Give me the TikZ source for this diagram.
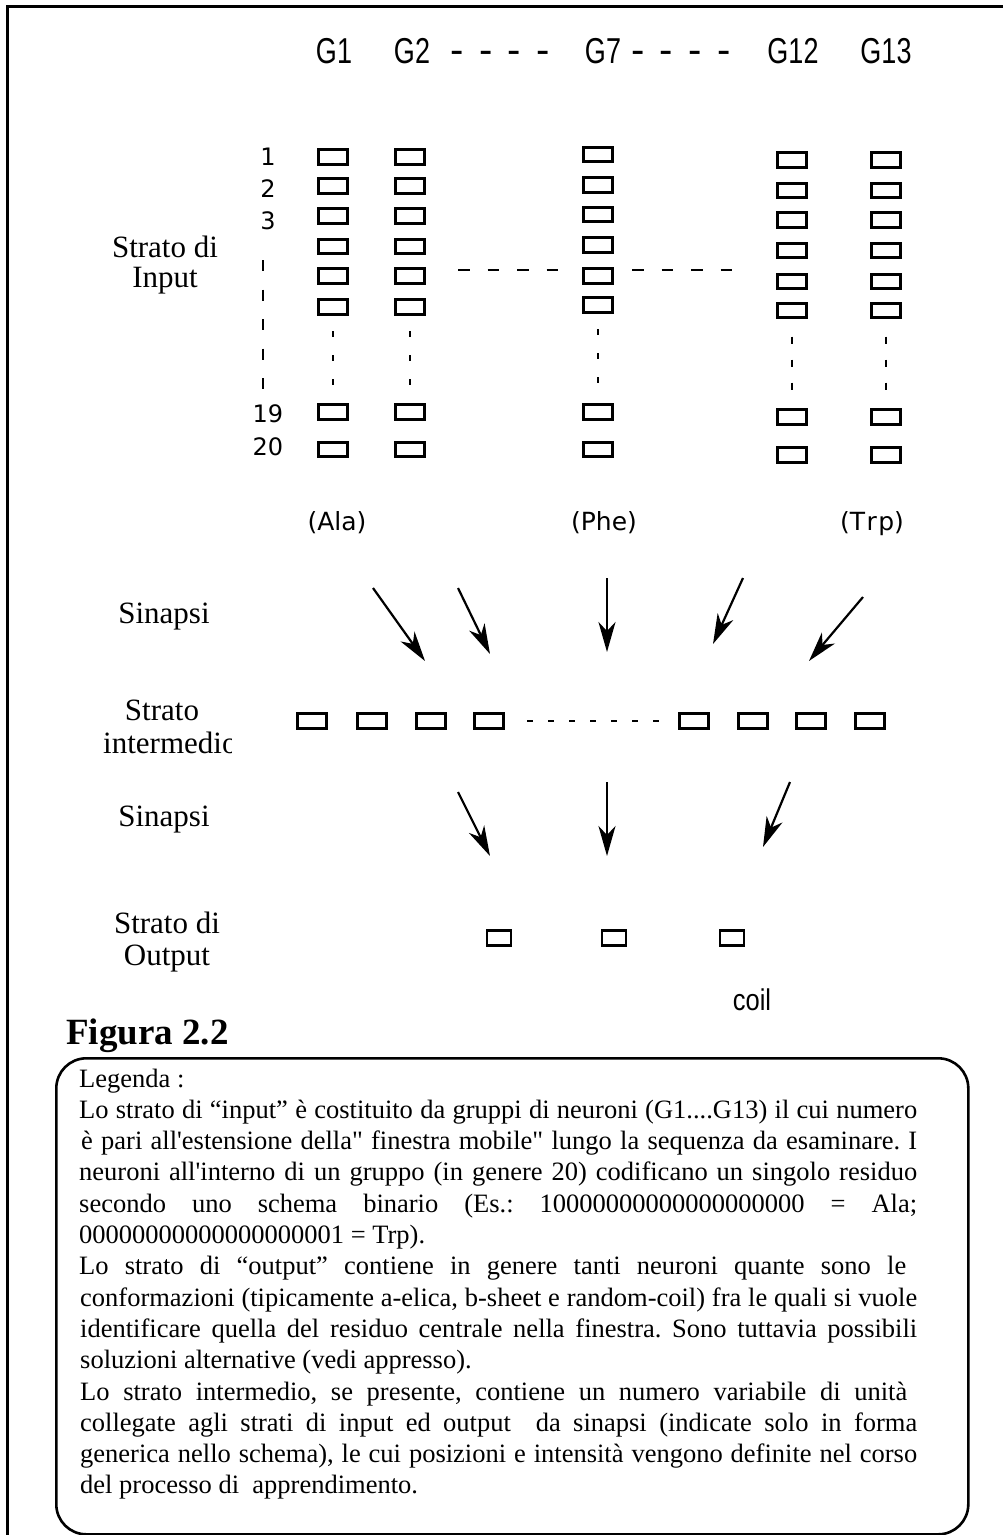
\documentclass[tikz,border=0pt]{standalone}
\usepackage{fontspec}
\setmainfont{Liberation Serif}[Ligatures=TeXOff]
\newfontfamily\hdrfont[FakeStretch=0.75]{Liberation Sans}
\newfontfamily\dashfont{Liberation Sans}
\newfontfamily\coilfont[FakeStretch=0.85]{Liberation Sans}
\newfontfamily\lblfont{DejaVu Sans}
\usetikzlibrary{arrows.meta}
\frenchspacing
\begin{document}
\begin{tikzpicture}[x=1pt,y=-1pt,
  neuron/.style={draw, line width=2.6pt, minimum width=29.5pt, minimum height=14.5pt, inner sep=0pt},
  oneuron/.style={draw, line width=2.6pt, minimum width=24pt, minimum height=14.5pt, inner sep=0pt},
  syn/.style={-{Stealth[length=30pt,width=17pt,inset=9pt]}, line width=2.2pt},
  lay/.style={font=\fontsize{31}{31}\selectfont, inner sep=0pt, anchor=base},
  hdr/.style={font=\hdrfont\fontsize{36}{36}\selectfont, inner sep=0pt, anchor=base},
  hdrdash/.style={font=\dashfont\fontsize{40}{40}\selectfont, inner sep=0pt, anchor=base},
  num/.style={font=\lblfont\fontsize{24}{24}\selectfont, inner sep=0pt, anchor=base},
  res/.style={font=\lblfont\fontsize{25}{25}\selectfont, inner sep=0pt, anchor=base},
  leg/.style={font=\fontsize{26.5}{31}\selectfont, inner sep=0pt, anchor=base west},
  hdash/.style={line width=2.6pt, dash pattern=on 11.5pt off 18pt},
  frame/.style={line width=3pt}
]
\useasboundingbox (0,0) rectangle (1003,1535);
% outer frame (top and left)
\coordinate (fr1) at (7,1535);
\coordinate (fr2) at (7,6);
\coordinate (fr3) at (1003,6);
\draw[frame] (fr1) -- (fr2) -- (fr3);

% header
\node[hdr] (hg1) at (334,63) {G1};
\node[hdr] (hg2) at (412,63) {G2};
\node[hdrdash] (hd1) at (500,63) {\hbox to 99pt{-\hfill-\hfill-\hfill-}};
\node[hdr] (hg7) at (603,63) {G7};
\node[hdrdash] (hd2) at (681,63) {\hbox to 100pt{-\hfill-\hfill-\hfill-}};
\node[hdr] (hg12) at (793,63) {G12};
\node[hdr] (hg13) at (886,63) {G13};

% row numbers
\node[num] (n1) at (268,165) {1};
\node[num] (n2) at (268,197) {2};
\node[num] (n3) at (268,229) {3};
\node[num] (n19) at (268,422) {19};
\node[num] (n20) at (268,455) {20};
\coordinate (ld1) at (263,260);
\coordinate (ld2) at (263,389);
\draw[line width=2.6pt, dash pattern=on 11pt off 18.5pt] (ld1) -- (ld2);

% input layer columns
\foreach \y [count=\i] in {157,186,216,246.5,276,307,412,449.5}
  \node[neuron] (ga-\i) at (333,\y) {};
\foreach \y [count=\i] in {157,186,216,246.5,276,307,412,449.5}
  \node[neuron] (gb-\i) at (410,\y) {};
\foreach \y [count=\i] in {154.5,185,214.5,245,276,305,412,449.5}
  \node[neuron] (gc-\i) at (598,\y) {};
\foreach \y [count=\i] in {160,190.5,220,250.5,281.5,310.5,417,455}
  \node[neuron] (gd-\i) at (792,\y) {};
\foreach \y [count=\i] in {160,190.5,220,250.5,281.5,310.5,417,455}
  \node[neuron] (ge-\i) at (886,\y) {};
\foreach \c in {ga,gb,gc}
  \draw[line width=2.6pt, dash pattern=on 0pt off 15.5pt on 6pt off 18pt on 6pt off 18pt on 6pt off 80pt] (\c-6.south) -- (\c-7.north);
\foreach \c in {gd,ge}
  \draw[line width=2.6pt, dash pattern=on 0pt off 17.5pt on 7pt off 16pt on 7pt off 16pt on 7pt off 80pt] (\c-6.south) -- (\c-7.north);

% horizontal dashes across groups
\coordinate (hl1) at (458,270);
\coordinate (hl2) at (560,270);
\coordinate (hl3) at (632,270);
\coordinate (hl4) at (734,270);
\draw[hdash] (hl1) -- (hl2);
\draw[hdash] (hl3) -- (hl4);

% layer labels
\node[lay] (si1) at (165,257) {Strato di};
\node[lay] (si2) at (165,287) {Input};
\node[res] (ala) at (337,530) {(Ala)};
\node[res] (phe) at (604,530) {(Phe)};
\node[res] (trp) at (872,530) {(T\kern1.5pt r\kern1.5pt p)};
\node[lay] (sy1) at (164,623) {Sinapsi};
\node[lay] (sm1) at (162,720) {Strato};
\begin{scope}
  \clip (90,725) rectangle (231,770);
  \node[lay, anchor=base west] (sm2) at (103,753) {intermedio};
\end{scope}
\node[lay] (sy2) at (164,826) {Sinapsi};
\node[lay] (so1) at (167,933) {Strato di};
\node[lay] (so2) at (167,965) {Output};

% arrows input -> hidden
\coordinate (a1s) at (373,588); \coordinate (a1e) at (425,661);
\coordinate (a2s) at (458,588); \coordinate (a2e) at (490,654);
\coordinate (a3s) at (607,578); \coordinate (a3e) at (607,652);
\coordinate (a4s) at (743,578); \coordinate (a4e) at (713,644);
\coordinate (a5s) at (863,597); \coordinate (a5e) at (809,661);
\draw[syn] (a1s) -- (a1e);
\draw[syn] (a2s) -- (a2e);
\draw[syn] (a3s) -- (a3e);
\draw[syn] (a4s) -- (a4e);
\draw[syn] (a5s) -- (a5e);

% hidden layer
\foreach \x [count=\i] in {312,372,431,489,694,753,811,870}
  \node[neuron] (h-\i) at (\x,721) {};
\draw[line width=2.6pt, dash pattern=on 0pt off 22pt on 6pt off 15pt on 6pt off 15pt on 6pt off 15pt on 6pt off 15pt on 6pt off 15pt on 6pt off 15pt on 6pt off 80pt] (h-4.east) -- (h-5.west);

% arrows hidden -> output
\coordinate (b1s) at (458,792); \coordinate (b1e) at (490,856);
\coordinate (b2s) at (607,782); \coordinate (b2e) at (607,856);
\coordinate (b3s) at (790,782); \coordinate (b3e) at (763,847);
\draw[syn] (b1s) -- (b1e);
\draw[syn] (b2s) -- (b2e);
\draw[syn] (b3s) -- (b3e);

% output layer
\node[oneuron] (o1) at (499,938) {};
\node[oneuron] (o2) at (614,938) {};
\node[oneuron] (o3) at (732,938) {};
\node[inner sep=0pt, anchor=base, font=\coilfont\fontsize{30}{30}\selectfont] (coil) at (752,1010) {coil};

% figure caption
\node[inner sep=0pt, anchor=base west, font=\bfseries\fontsize{37}{37}\selectfont] (fig) at (66,1044) {Figura 2.2};

% legend box
\node[draw, line width=2.6pt, rounded corners=30pt, minimum width=912pt, minimum height=476pt, inner sep=0pt, anchor=north west] (legbox) at (55,1057) {};
\node[leg] (l0) at (79,1087) {Legenda :};
\node[leg] (l1) at (79,1118.3) {\makebox[838pt][s]{Lo strato di “input” è costituito da gruppi di neuroni (G1....G13) il cui numero}};
\node[leg] (l2) at (81,1149.6) {\makebox[836pt][s]{è pari all'estensione della" finestra mobile" lungo la sequenza da esaminare. I}};
\node[leg] (l3) at (79,1180.9) {\makebox[838pt][s]{neuroni all'interno di un gruppo (in genere 20) codificano un singolo residuo}};
\node[leg] (l4) at (79,1212.2) {\makebox[838pt][s]{secondo uno schema binario (Es.: 10000000000000000000 = Ala;}};
\node[leg] (l5) at (79,1243.5) {00000000000000000001 = Trp).};
\node[leg] (l6) at (79,1274.8) {\makebox[827pt][s]{Lo strato di “output” contiene in genere tanti neuroni quante sono le}};
\node[leg] (l7) at (80,1306.1) {\makebox[837pt][s]{conformazioni (tipicamente a-elica, b-sheet e random-coil) fra le quali si vuole}};
\node[leg] (l8) at (80,1337.4) {\makebox[837pt][s]{identificare quella del residuo centrale nella finestra. Sono tuttavia possibili}};
\node[leg] (l9) at (80,1368.7) {soluzioni alternative (vedi appresso).};
\node[leg] (l10) at (80,1400) {\makebox[827pt][s]{Lo strato intermedio, se presente, contiene un numero variabile di unità}};
\node[leg] (l11) at (80,1431.3) {\makebox[837pt][s]{collegate agli strati di input ed output\ \ da sinapsi (indicate solo in forma}};
\node[leg] (l12) at (80,1462.6) {\makebox[837pt][s]{generica nello schema), le cui posizioni e intensità vengono definite nel corso}};
\node[leg] (l13) at (80,1493.9) {del processo di\ \ apprendimento.};
\end{tikzpicture}
\end{document}
